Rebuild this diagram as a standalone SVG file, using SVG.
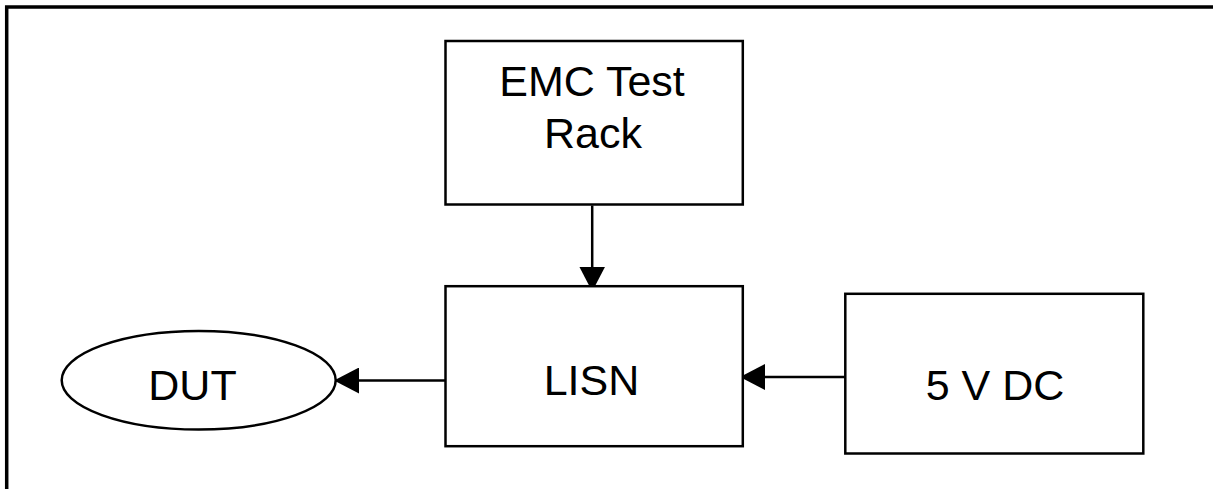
<svg xmlns="http://www.w3.org/2000/svg" width="1213" height="489" viewBox="0 0 1213 489">
  <defs>
    <style>
      .box { fill: #ffffff; stroke: #000000; stroke-width: 2.5; }
      .lbl { font-family: "Liberation Sans", Arial, sans-serif; font-size: 43px; fill: #000000; text-anchor: middle; }
      .edge { fill: none; stroke: #000000; stroke-width: 2.5; }
      .frame { fill: none; stroke: #000000; stroke-width: 3.5; }
    </style>
    <marker id="arrow" viewBox="0 0 25 26" refX="25" refY="13" markerWidth="25" markerHeight="26" markerUnits="userSpaceOnUse" orient="auto">
      <path d="M0,0 L25,13 L0,26 Z" fill="#000000"/>
    </marker>
  </defs>
  <rect width="1213" height="489" fill="#ffffff"/>
  <path class="frame" d="M6.7,489 V7 H1213"/>
  <g id="connectors">
    <line class="edge" x1="592.2" y1="205.5" x2="592.2" y2="291.5" marker-end="url(#arrow)"/>
    <line class="edge" x1="445.5" y1="380.5" x2="334" y2="380.5" marker-end="url(#arrow)"/>
    <line class="edge" x1="845.3" y1="377" x2="740" y2="377" marker-end="url(#arrow)"/>
  </g>
  <g id="emc-test-rack">
    <rect class="box" x="445.5" y="41" width="297.3" height="163.5"/>
    <text class="lbl" x="592" y="96">EMC Test</text>
    <text class="lbl" x="593" y="147.5">Rack</text>
  </g>
  <g id="lisn">
    <rect class="box" x="445.5" y="286.2" width="297.3" height="160"/>
    <text class="lbl" x="591.5" y="395">LISN</text>
  </g>
  <g id="dut">
    <ellipse class="box" cx="198.7" cy="380.3" rx="137" ry="49.3"/>
    <text class="lbl" x="192.5" y="400">DUT</text>
  </g>
  <g id="five-v-dc">
    <rect class="box" x="845.3" y="293.8" width="298" height="159.7"/>
    <text class="lbl" x="995" y="400">5 V DC</text>
  </g>
</svg>
